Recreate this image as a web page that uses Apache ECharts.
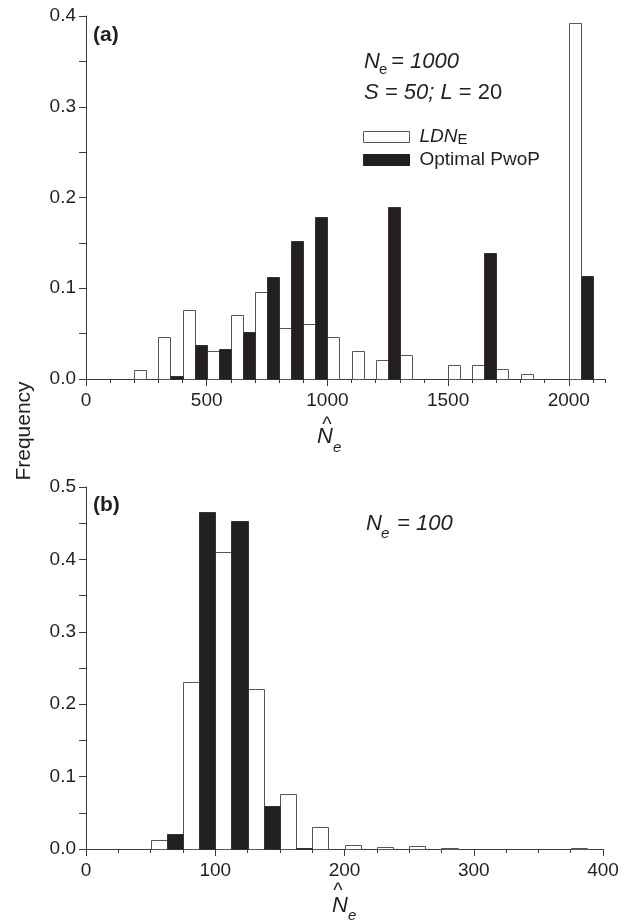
<!DOCTYPE html>
<html>
<head>
<meta charset="utf-8">
<script src="https://cdn.jsdelivr.net/npm/echarts@6/dist/echarts.min.js"></script>
<style>
html,body{margin:0;padding:0;background:#fff;}
#chart{width:630px;height:920px;}
</style>
</head>
<body>
<div id="chart"></div>
<script>
// ---------- Panel (a): Ne = 1000, bins of width 100 ----------
const binsA = [200,300,400,500,600,700,800,900,1000,1100,1200,1300,1400,1500,1600,1700,1800,1900,2000];
const ldneA = [0.010,0.046,0.076,0.031,0.071,0.096,0.056,0.061,0.046,0.031,0.021,0.026,0,0.015,0.015,0.011,0.005,0,0.392];
const pwopA = [0,0.003,0.037,0.033,0.052,0.112,0.152,0.178,0,0,0.189,0,0,0,0.139,0,0,0,0.114];
const binWidthA = 100;
const xLabelsA = [0,500,1000,1500,2000];
const xMinorA = [100,200,300,400,600,700,800,900,1100,1200,1300,1400,1600,1700,1800,1900,2100,2150];

// ---------- Panel (b): Ne = 100, bins of width 25 ----------
const binsB = [50,75,100,125,150,175,200,225,250,275,300,325,350,375];
const ldneB = [0.012,0.231,0.410,0.221,0.076,0.030,0.006,0.003,0.004,0.001,0,0,0,0.001];
const pwopB = [0.021,0.465,0.453,0.059,0.002,0,0,0,0,0,0,0,0,0];
const binWidthB = 25;

const seriesNames = ['LDNE','Optimal PwoP'];

const FONT = 'Liberation Sans, Arial, sans-serif';
const INK = '#231f20';
const AXIS = '#3a3a3a';

function halfData(bins, vals, w, right){
  const out = [];
  bins.forEach((b,i)=>{
    if (vals[i] > 0) {
      const x0 = right ? b + w/2 : b;
      out.push([x0, x0 + w/2, vals[i]]);
    }
  });
  return out;
}
function render(fill, stroke){
  return function(params, api){
    const a = api.coord([api.value(0), api.value(2)]);
    const b = api.coord([api.value(1), 0]);
    const x0 = Math.round(a[0]), x1 = Math.round(b[0]);
    const y0 = Math.round(a[1]), y1 = Math.round(b[1]);
    return {type:'rect', shape:{x:x0+0.5, y:y0+0.5, width:x1-x0, height:Math.max(1,y1-y0)},
            style:{fill:fill, stroke:stroke, lineWidth:1}};
  };
}

const labelStyle = {fontFamily:FONT, fontSize:19, color:INK};

function yAxisDef(grid, max){
  return {
    type:'value', gridIndex:grid, min:0, max:max, interval:0.1,
    axisLine:{show:true, lineStyle:{color:AXIS, width:1}},
    axisTick:{show:true, length:7, inside:false, lineStyle:{color:AXIS}},
    minorTick:{show:true, splitNumber:2, length:7, lineStyle:{color:AXIS}},
    axisLabel:Object.assign({margin:10, formatter:v=>v.toFixed(1)}, labelStyle),
    splitLine:{show:false}, minorSplitLine:{show:false}
  };
}

const option = {
  animation:false,
  backgroundColor:'#fff',
  grid:[
    {left:86, top:16, width:519, height:363},
    {left:86, top:487, width:517, height:362}
  ],
  xAxis:[
    {type:'value', gridIndex:0, min:0, max:2150, position:'bottom',
     axisLine:{show:true, onZero:false, lineStyle:{color:AXIS, width:1}},
     axisTick:{show:true, length:7, customValues:xLabelsA, lineStyle:{color:AXIS}},
     axisLabel:Object.assign({margin:12, customValues:xLabelsA, formatter:v=>String(v)}, labelStyle),
     splitLine:{show:false}},
    {type:'value', gridIndex:0, min:0, max:2150, position:'bottom',
     axisLine:{show:false, onZero:false},
     axisTick:{show:true, length:4, customValues:xMinorA, lineStyle:{color:AXIS}},
     axisLabel:{show:false}, splitLine:{show:false}},
    {type:'value', gridIndex:1, min:0, max:400, interval:100, position:'bottom',
     axisLine:{show:true, onZero:false, lineStyle:{color:AXIS, width:1}},
     axisTick:{show:true, length:7, lineStyle:{color:AXIS}},
     minorTick:{show:true, splitNumber:4, length:4, lineStyle:{color:AXIS}},
     axisLabel:Object.assign({margin:12, formatter:v=>String(v)}, labelStyle),
     splitLine:{show:false}, minorSplitLine:{show:false}}
  ],
  yAxis:[ yAxisDef(0, 0.4), yAxisDef(1, 0.5) ],
  legend:{
    orient:'vertical', left:363, top:126, padding:0, itemGap:1,
    itemWidth:46, itemHeight:11,
    data:[
      {name:seriesNames[0], icon:'rect', itemStyle:{color:'#fff', borderColor:'#555', borderWidth:1}},
      {name:seriesNames[1], icon:'rect', itemStyle:{color:INK, borderColor:INK, borderWidth:1}}
    ],
    formatter:n => n === 'LDNE' ? '{i|LDN}{s|E}' : '{r|' + n + '}',
    textStyle:{fontFamily:FONT, fontSize:19, color:INK, lineHeight:22,
      rich:{
        i:{fontFamily:FONT, fontSize:19, fontStyle:'italic', color:INK, padding:[0,0,0,5]},
        s:{fontFamily:FONT, fontSize:15, color:INK, verticalAlign:'bottom', padding:[0,0,1,0]},
        r:{fontFamily:FONT, fontSize:19, color:INK, padding:[0,0,0,5]}
      }}
  },
  series:[
    {name:seriesNames[0], type:'custom', xAxisIndex:0, yAxisIndex:0, encode:{x:[0,1], y:2},
     itemStyle:{color:'#fff', borderColor:'#555'}, renderItem:render('#fff','#555'),
     data:halfData(binsA, ldneA, binWidthA, false)},
    {name:seriesNames[1], type:'custom', xAxisIndex:0, yAxisIndex:0, encode:{x:[0,1], y:2},
     itemStyle:{color:INK}, renderItem:render(INK,'#333'),
     data:halfData(binsA, pwopA, binWidthA, true)},
    {name:seriesNames[0], type:'custom', xAxisIndex:2, yAxisIndex:1, encode:{x:[0,1], y:2},
     itemStyle:{color:'#fff', borderColor:'#555'}, renderItem:render('#fff','#555'),
     data:halfData(binsB, ldneB, binWidthB, false)},
    {name:seriesNames[1], type:'custom', xAxisIndex:2, yAxisIndex:1, encode:{x:[0,1], y:2},
     itemStyle:{color:INK}, renderItem:render(INK,'#333'),
     data:halfData(binsB, pwopB, binWidthB, true)}
  ],
  graphic:[
    // panel letters
    {type:'text', x:93, y:35, style:{text:'(a)', font:'bold 21px ' + FONT, fill:INK, verticalAlign:'middle'}},
    {type:'text', x:93, y:505, style:{text:'(b)', font:'bold 21px ' + FONT, fill:INK, verticalAlign:'middle'}},
    // panel (a) annotation
    {type:'text', x:364, y:62, style:{text:'N', font:'italic 22px ' + FONT, fill:INK, verticalAlign:'middle'}},
    {type:'text', x:379, y:70, style:{text:'e', font:'15px ' + FONT, fill:INK, verticalAlign:'middle'}},
    {type:'text', x:391, y:62, style:{text:'= 1000', font:'italic 22px ' + FONT, fill:INK, verticalAlign:'middle'}},
    {type:'text', x:364, y:93, style:{text:'{i|S = 50; L}{r| = 20}', verticalAlign:'middle', fill:INK,
      rich:{i:{fontFamily:FONT, fontSize:22, fontStyle:'italic', fill:INK}, r:{fontFamily:FONT, fontSize:22, fill:INK}}}},
    // panel (b) annotation
    {type:'text', x:366, y:524, style:{text:'N', font:'italic 22px ' + FONT, fill:INK, verticalAlign:'middle'}},
    {type:'text', x:381, y:534, style:{text:'e', font:'italic 15px ' + FONT, fill:INK, verticalAlign:'middle'}},
    {type:'text', x:397, y:524, style:{text:'= 100', font:'italic 22px ' + FONT, fill:INK, verticalAlign:'middle'}},
    // y axis title
    {type:'text', x:24, y:431, rotation:Math.PI/2, style:{text:'Frequency', font:'21px ' + FONT, fill:INK, align:'center', verticalAlign:'middle'}},
    // x axis titles (N-hat sub e)
    {type:'text', x:327, y:425, style:{text:'^', font:'20px ' + FONT, fill:INK, align:'center', verticalAlign:'middle'}},
    {type:'text', x:317, y:437, style:{text:'N', font:'italic 22px ' + FONT, fill:INK, verticalAlign:'middle'}},
    {type:'text', x:333, y:448, style:{text:'e', font:'italic 15px ' + FONT, fill:INK, verticalAlign:'middle'}},
    {type:'text', x:338, y:891, style:{text:'^', font:'20px ' + FONT, fill:INK, align:'center', verticalAlign:'middle'}},
    {type:'text', x:332, y:906, style:{text:'N', font:'italic 22px ' + FONT, fill:INK, verticalAlign:'middle'}},
    {type:'text', x:348, y:916, style:{text:'e', font:'italic 15px ' + FONT, fill:INK, verticalAlign:'middle'}}
  ]
};

const chart = echarts.init(document.getElementById('chart'), null, {renderer:'canvas'});
chart.setOption(option);
</script>
</body>
</html>
